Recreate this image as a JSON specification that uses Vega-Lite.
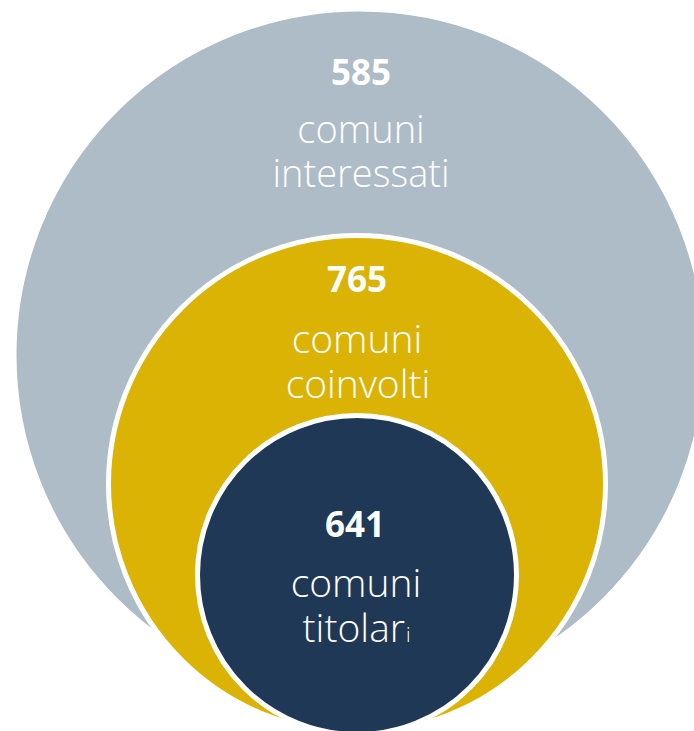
{
  "$schema": "https://vega.github.io/schema/vega-lite/v6.json",
  "width": 694,
  "height": 731,
  "autosize": {"type": "fit", "contains": "padding"},
  "padding": 0,
  "background": "white",
  "config": {"view": {"stroke": null}},
  "datasets": {
    "circles": [
      {"gruppo": "interessati", "cx": 360, "cy": 355, "r": 346},
      {"gruppo": "coinvolti", "cx": 357, "cy": 484, "r": 248.5},
      {"gruppo": "titolari", "cx": 357, "cy": 575, "r": 159.5}
    ],
    "labels": [
      {"testo": "585", "x": 361, "y": 85, "tipo": "numero", "cerchio": "interessati"},
      {"testo": "comuni", "x": 361, "y": 143, "tipo": "etichetta", "cerchio": "interessati"},
      {"testo": "interessati", "x": 361, "y": 187, "tipo": "etichetta", "cerchio": "interessati"},
      {"testo": "765", "x": 357, "y": 292, "tipo": "numero", "cerchio": "coinvolti"},
      {"testo": "comuni", "x": 357, "y": 353, "tipo": "etichetta", "cerchio": "coinvolti"},
      {"testo": "coinvolti", "x": 358, "y": 398, "tipo": "etichetta", "cerchio": "coinvolti"},
      {"testo": "641", "x": 355, "y": 537, "tipo": "numero", "cerchio": "titolari"},
      {"testo": "comuni", "x": 356, "y": 597, "tipo": "etichetta", "cerchio": "titolari"},
      {"testo": "titolar", "x": 405, "y": 642, "tipo": "etichetta-dx", "cerchio": "titolari"},
      {"testo": "i", "x": 406, "y": 642, "tipo": "pedice", "cerchio": "titolari"}
    ]
  },
  "encoding": {
    "x": {"type": "quantitative", "scale": {"domain": [0, 694], "nice": false, "zero": false}, "axis": null},
    "y": {"type": "quantitative", "scale": {"domain": [0, 731], "nice": false, "zero": false, "reverse": true}, "axis": null}
  },
  "layer": [
    {
      "data": {"name": "circles"},
      "mark": {"type": "point", "filled": true, "shape": "circle", "opacity": 1, "stroke": "white", "strokeWidth": 5, "clip": true},
      "encoding": {
        "x": {"field": "cx", "type": "quantitative"},
        "y": {"field": "cy", "type": "quantitative"},
        "size": {"field": "r", "type": "quantitative", "scale": {"type": "pow", "exponent": 2, "domain": [0, 400], "range": [0, 640000]}, "legend": null},
        "color": {"field": "gruppo", "type": "nominal", "scale": {"domain": ["interessati", "coinvolti", "titolari"], "range": ["#AEBCC7", "#DAB304", "#1F3855"]}, "legend": null}
      }
    },
    {
      "data": {"name": "labels"},
      "transform": [{"filter": "datum.tipo === 'numero'"}],
      "mark": {"type": "text", "font": "Open Sans", "fontWeight": "bold", "fontSize": 35, "color": "white", "baseline": "alphabetic", "align": "center", "clip": true},
      "encoding": {
        "x": {"field": "x", "type": "quantitative"},
        "y": {"field": "y", "type": "quantitative"},
        "text": {"field": "testo"}
      }
    },
    {
      "data": {"name": "labels"},
      "transform": [{"filter": "datum.tipo === 'etichetta' && datum.cerchio === 'interessati'"}],
      "mark": {"type": "text", "font": "Open Sans", "fontWeight": 300, "fontSize": 38, "color": "white", "baseline": "alphabetic", "align": "center", "clip": true},
      "encoding": {
        "x": {"field": "x", "type": "quantitative"},
        "y": {"field": "y", "type": "quantitative"},
        "text": {"field": "testo"}
      }
    },
    {
      "data": {"name": "labels"},
      "transform": [{"filter": "datum.tipo === 'etichetta' && datum.cerchio !== 'interessati'"}],
      "mark": {"type": "text", "font": "Open Sans", "fontWeight": 300, "fontSize": 39, "color": "white", "baseline": "alphabetic", "align": "center", "clip": true},
      "encoding": {
        "x": {"field": "x", "type": "quantitative"},
        "y": {"field": "y", "type": "quantitative"},
        "text": {"field": "testo"}
      }
    },
    {
      "data": {"name": "labels"},
      "transform": [{"filter": "datum.tipo === 'etichetta-dx'"}],
      "mark": {"type": "text", "font": "Open Sans", "fontWeight": 300, "fontSize": 39, "color": "white", "baseline": "alphabetic", "align": "right", "clip": true},
      "encoding": {
        "x": {"field": "x", "type": "quantitative"},
        "y": {"field": "y", "type": "quantitative"},
        "text": {"field": "testo"}
      }
    },
    {
      "data": {"name": "labels"},
      "transform": [{"filter": "datum.tipo === 'pedice'"}],
      "mark": {"type": "text", "font": "Open Sans", "fontWeight": 300, "fontSize": 20, "color": "white", "baseline": "alphabetic", "align": "left", "clip": true},
      "encoding": {
        "x": {"field": "x", "type": "quantitative"},
        "y": {"field": "y", "type": "quantitative"},
        "text": {"field": "testo"}
      }
    }
  ]
}
